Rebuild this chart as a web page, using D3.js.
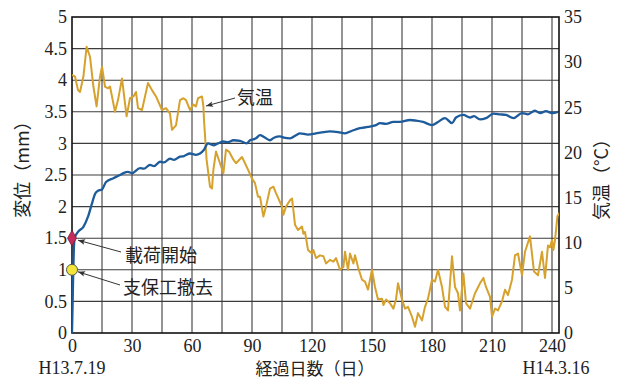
<!DOCTYPE html>
<html><head><meta charset="utf-8">
<script src="https://cdn.jsdelivr.net/npm/d3@7/dist/d3.min.js"></script>
<style>
html,body{margin:0;padding:0;background:#fff;}
text{font-family:"Liberation Serif","Noto Sans CJK JP",serif;fill:#222;}
.jp{font-family:"Noto Sans CJK JP","Liberation Serif",sans-serif;}
</style></head><body>
<svg id="c" width="618" height="380"></svg>
<script>
// ---- data ----
const dispDays = [0,0.3,0.6,0.9,1.3,3,5.7,8,10,11.5,13,15,17,20.7,24,25.7,28,30,34,36,39,41,44,46,49,51,54,56,59,62,64,66,68,70.7,73,75.7,78,80.7,84,87.3,89,92,94,96,99,101,104,106,109,112,114,118,122,126,129,133,136.5,140,144,148,152,154,157,160.7,164,169,172,175.5,180,183,186.5,190,192,195.7,199,201,204,207,210.7,214,217,220.7,225,228,231.5,234,237,240,243];
const dispVals = [0,0.45,0.95,1.3,1.5,1.6,1.68,1.84,2.05,2.2,2.25,2.27,2.39,2.45,2.5,2.53,2.55,2.53,2.61,2.6,2.66,2.64,2.71,2.7,2.76,2.74,2.79,2.8,2.84,2.82,2.84,2.9,3.0,2.97,3.0,3.03,3.02,3.05,3.04,3.0,3.05,3.08,3.13,3.1,3.05,3.09,3.11,3.09,3.08,3.13,3.16,3.14,3.16,3.18,3.19,3.18,3.16,3.2,3.24,3.26,3.29,3.32,3.31,3.34,3.34,3.37,3.36,3.34,3.29,3.34,3.40,3.32,3.41,3.45,3.41,3.43,3.38,3.40,3.47,3.46,3.45,3.40,3.48,3.46,3.52,3.48,3.51,3.48,3.50];

const tempDays = [0,1.5,3,4,5.7,7.3,9,10.7,12.3,14,15,16.5,18,19,20,21.5,23,25,25.7,27.3,29,30.7,32,33,35,36.5,38,40,42,45,47,49,50,52,54,55.7,57,59,60.7,62,63,65,65.7,66,67.3,69,70,70.7,72,74,75.7,77,78.5,80.7,82,85,86.5,88,90,91.5,93,94,95.7,97,99,100.7,102,105,105.7,107,109,110,110.7,111.5,113,115,115.7,116.5,118,120,120.7,122,124,125.7,127,129,130.7,132,134,135.7,136.5,138,139,140.7,141.5,143,145,146.5,148,150,151.5,153,155,155.7,157,159,160.7,162,163,165,166.5,168,170,171.5,173,175,176.5,178,180,181.5,183,185,186.5,188,190,191.5,193,194,195.7,197,199,201.5,204,205.7,207,209,210,211.5,213,215,216.5,218,220,221.5,223,225,226.5,229,231,233,235,236.5,238,239,240,240.7,241.5,242.7,243.6];
const tempVals = [28.6,28.4,26.9,26.7,28.4,31.7,30.6,27.3,25.1,28.4,29.5,27.3,27.1,27.3,26.2,24.5,25.8,28.2,26.9,24.0,26.0,26.2,26.7,24.9,24.7,26.2,27.7,26.9,26.2,24.7,24.9,24.3,22.5,23.0,25.8,26.0,25.8,24.7,25.3,25.1,26.0,26.2,25.1,23.6,19.2,16.2,16.0,18.1,20.1,18.8,17.7,20.3,20.1,19.2,18.8,19.5,18.8,18.1,17.1,16.6,15.1,15.1,12.9,14.0,16.0,16.2,15.5,14.0,13.1,14.0,14.7,14.9,13.6,12.0,11.4,11.8,11.0,11.2,9.2,8.8,9.2,8.3,8.6,8.5,7.7,8.1,7.9,8.3,7.0,7.3,9.0,7.0,8.8,7.7,8.6,7.3,5.9,5.7,4.8,7.0,5.1,3.7,3.8,3.1,3.7,3.3,2.7,3.7,5.5,3.7,2.7,2.9,1.8,0.7,2.2,1.4,2.9,3.8,5.9,5.7,7.0,5.1,2.9,2.5,8.5,5.1,4.4,2.5,6.6,3.3,2.7,4.4,5.5,6.1,5.1,4.0,1.8,2.7,2.5,3.5,4.8,4.2,5.9,8.6,8.8,6.4,9.0,10.7,6.8,6.4,9.0,6.1,9.7,9.5,10.3,9.2,10.3,12.9,13.3];

const xTicks = [0,30,60,90,120,150,180,210,240];
const yLeftTicks = [0,0.5,1,1.5,2,2.5,3,3.5,4,4.5,5];
const yRightTicks = [0,5,10,15,20,25,30,35];
const eventLabels = ["載荷開始","支保工撤去"];
const eventDisp = [1.5,1.0];
const startDate = "H13.7.19", endDate = "H14.3.16";
const xTitle = "経過日数（日）", yLeftTitle = "変位（mm）", yRightTitle = "気温（°C）";
const tempLabel = "気温";

// ---- layout ----
const svg = d3.select("#c");
const L = 72, R = 559, T = 17, B = 333;
const x = d3.scaleLinear().domain([0,243.5]).range([L,R]);
const y = d3.scaleLinear().domain([0,5]).range([B,T]);
const y2 = d3.scaleLinear().domain([0,35]).range([B,T]);

// grid
const g = svg.append("g");
g.selectAll("line.v").data(d3.range(15,241,15)).enter().append("line")
  .attr("x1",d=>x(d)).attr("x2",d=>x(d)).attr("y1",T).attr("y2",B)
  .attr("stroke","#3c3c3c").attr("stroke-width",1.1);
g.selectAll("line.h").data(yLeftTicks.slice(1,-1)).enter().append("line")
  .attr("x1",L).attr("x2",R).attr("y1",d=>y(d)).attr("y2",d=>y(d))
  .attr("stroke","#3c3c3c").attr("stroke-width",1.1);

// axes (labels only)
const ax = svg.append("g").attr("transform",`translate(0,${B})`)
  .call(d3.axisBottom(x).tickValues(xTicks).tickSize(0).tickPadding(6));
const ay = svg.append("g").attr("transform",`translate(${L},0)`)
  .call(d3.axisLeft(y).tickValues(yLeftTicks).tickFormat(d3.format("")).tickSize(0).tickPadding(5));
const ay2 = svg.append("g").attr("transform",`translate(${R},0)`)
  .call(d3.axisRight(y2).tickValues(yRightTicks).tickSize(0).tickPadding(5));
[ax,ay,ay2].forEach(a=>{a.select(".domain").remove();
  a.selectAll("text").attr("font-size",18).attr("fill","#222")
   .style("font-family","'Liberation Serif',serif");});

// frame
svg.append("rect").attr("x",L).attr("y",T).attr("width",R-L).attr("height",B-T)
  .attr("fill","none").attr("stroke","#111").attr("stroke-width",1.6);

// lines
const clip = svg.append("clipPath").attr("id","cp").append("rect")
  .attr("x",L).attr("y",T-2).attr("width",R-L).attr("height",B-T+2);
const tempData = tempDays.map((d,i)=>[d,tempVals[i]]);
const dispData = dispDays.map((d,i)=>[d,dispVals[i]]);
svg.append("path").datum(tempData).attr("clip-path","url(#cp)")
  .attr("d",d3.line().x(d=>x(d[0])).y(d=>y2(d[1])))
  .attr("fill","none").attr("stroke","#d6a12c").attr("stroke-width",2).attr("stroke-linejoin","round");
svg.append("path").datum(dispData).attr("clip-path","url(#cp)")
  .attr("d",d3.line().x(d=>x(d[0])).y(d=>y(d[1])).curve(d3.curveMonotoneX))
  .attr("fill","none").attr("stroke","#1d5b9a").attr("stroke-width",2.3).attr("stroke-linejoin","round");

// arrow marker
const defs = svg.append("defs");
defs.append("marker").attr("id","ah").attr("viewBox","0 0 10 10").attr("refX",10).attr("refY",5)
  .attr("markerWidth",9).attr("markerHeight",7).attr("orient","auto").attr("markerUnits","userSpaceOnUse")
  .append("path").attr("d","M0,1 L10,5 L0,9 L2,5 Z").attr("fill","#333");

function arrow(x1,y1,x2,y2){
  svg.append("line").attr("x1",x1).attr("y1",y1).attr("x2",x2).attr("y2",y2)
    .attr("stroke","#333").attr("stroke-width",1).attr("marker-end","url(#ah)");
}

// event markers
const dx = x(0);
svg.append("path").attr("d",d3.symbol().type(d3.symbolDiamond).size(70)())
  .attr("transform",`translate(${dx},${y(eventDisp[0])})`)
  .attr("fill","#c42b5b").attr("stroke","#7a1a3a").attr("stroke-width",0.8);
svg.append("circle").attr("cx",dx).attr("cy",y(eventDisp[1])).attr("r",5.5)
  .attr("fill","#f2e63a").attr("stroke","#555").attr("stroke-width",1);

arrow(121,252,78,y(eventDisp[0])+2);
arrow(120,285,78,y(eventDisp[1])+2);
svg.append("text").attr("class","jp").attr("x",125).attr("y",262).attr("font-size",18).text(eventLabels[0]);
svg.append("text").attr("class","jp").attr("x",123).attr("y",294).attr("font-size",18).text(eventLabels[1]);

// temp label
arrow(235,98,206,106);
svg.append("text").attr("class","jp").attr("x",237).attr("y",104).attr("font-size",18).text(tempLabel);

// bottom labels
svg.append("text").attr("x",x(0)).attr("y",374).attr("text-anchor","middle").attr("font-size",18).text(startDate);
svg.append("text").attr("x",556).attr("y",374).attr("text-anchor","middle").attr("font-size",18).text(endDate);
svg.append("text").attr("class","jp").attr("x",315).attr("y",375).attr("text-anchor","middle").attr("font-size",17).text(xTitle);

// axis titles
svg.append("text").attr("class","jp").attr("transform","translate(29,165) rotate(-90)")
  .attr("text-anchor","middle").attr("font-size",18).text(yLeftTitle);
svg.append("text").attr("class","jp").attr("transform","translate(608,175) rotate(-90)")
  .attr("text-anchor","middle").attr("font-size",18).text(yRightTitle);
</script></body></html>
